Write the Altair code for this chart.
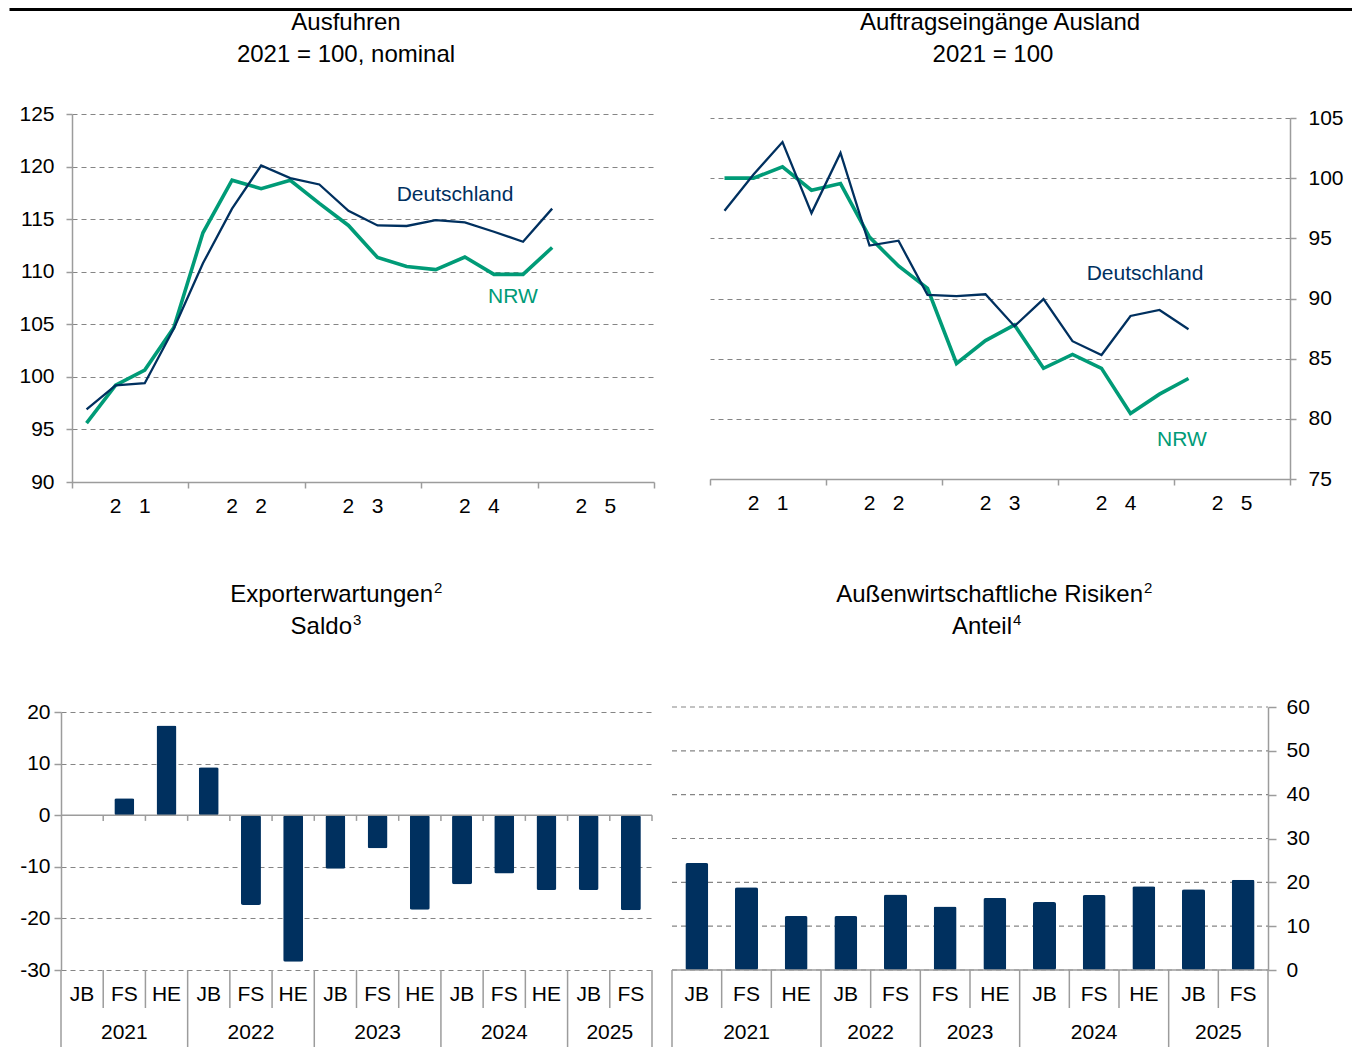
import altair as alt
import pandas as pd

FONT = "Liberation Sans"
NAVY = "#00305F"
GREEN = "#009B77"
GRID = "#858585"
AXIS = "#9C9C9C"

# ---------------- data ----------------
quarters = ["2021Q1", "2021Q2", "2021Q3", "2021Q4",
            "2022Q1", "2022Q2", "2022Q3", "2022Q4",
            "2023Q1", "2023Q2", "2023Q3", "2023Q4",
            "2024Q1", "2024Q2", "2024Q3", "2024Q4",
            "2025Q1"]
axis_years = ["2021", "2022", "2023", "2024", "2025"]

ausfuhren_de = [96.9, 99.2, 99.4, 104.6, 110.8, 116.0, 120.1, 118.9, 118.3,
                115.8, 114.4, 114.35, 114.9, 114.7, 113.8, 112.85, 116.0]
ausfuhren_nrw = [95.6, 99.2, 100.65, 104.7, 113.7, 118.7, 117.9, 118.7, 116.5,
                 114.4, 111.35, 110.5, 110.2, 111.4, 109.75, 109.75, 112.3]

auftrag_de = [97.3, 100.3, 103.0, 97.1, 102.1, 94.4, 94.8, 90.3, 90.2,
              90.35, 87.7, 89.95, 86.45, 85.3, 88.55, 89.05, 87.45]
auftrag_nrw = [100.0, 100.0, 100.95, 99.0, 99.55, 95.1, 92.7, 90.85, 84.6,
               86.5, 87.8, 84.2, 85.35, 84.2, 80.45, 82.05, 83.35]

exp_years = ["2021", "2021", "2021", "2022", "2022", "2022", "2023", "2023",
             "2023", "2024", "2024", "2024", "2025", "2025"]
exp_halves = ["JB", "FS", "HE", "JB", "FS", "HE", "JB", "FS", "HE",
              "JB", "FS", "HE", "JB", "FS"]
exp_values = [None, 3.3, 17.4, 9.3, -17.4, -28.4, -10.4, -6.4, -18.3,
              -13.4, -11.3, -14.5, -14.5, -18.4]

risk_years = ["2021", "2021", "2021", "2022", "2022", "2023", "2023",
              "2024", "2024", "2024", "2025", "2025"]
risk_halves = ["JB", "FS", "HE", "JB", "FS", "FS", "HE", "JB", "FS", "HE",
               "JB", "FS"]
risk_values = [24.4, 18.9, 12.3, 12.3, 17.2, 14.5, 16.4, 15.5, 17.1, 19.1,
               18.4, 20.6]
risk_ticks = [0, 10, 20, 30, 40, 50, 60]


# ---------------- helpers ----------------
def quarter_pos(q):
    return (int(q[:4]) - int(axis_years[0])) * 4 + int(q[-1]) - 0.5


def line_frame(de, nrw):
    return pd.DataFrame({
        "quarter": quarters * 2,
        "pos": [quarter_pos(q) for q in quarters] * 2,
        "series": ["Deutschland"] * len(de) + ["NRW"] * len(nrw),
        "value": de + nrw,
    })


digit_df = pd.DataFrame({
    "pos": [k * 4 + off for k in range(len(axis_years)) for off in (1.5, 2.5)],
    "txt": [ch for y in axis_years for ch in (y[0], y[-1])],
})


def label(text, x, y, color="black", size=21, align="center"):
    return alt.Chart(pd.DataFrame({"t": [text]})).mark_text(
        font=FONT, fontSize=size, color=color, align=align, baseline="middle"
    ).encode(text="t:N", x=alt.value(x), y=alt.value(y))


def title_with_sup(text, sup, right_x, y):
    return [label(text, right_x, y, size=24, align="right"),
            label(sup, right_x + 1, y - 7, size=15, align="left")]


def y_axis(values, orient, tick, pad, offset=0, expr=None, grid=True):
    kw = dict(values=values, orient=orient, title=None, grid=grid,
              domainColor=AXIS, domainWidth=1.5, tickColor=AXIS, tickWidth=1.5,
              tickSize=tick, labelPadding=pad, labelFontSize=21, labelFont=FONT,
              labelColor="black")
    if grid:
        kw.update(gridDash=[5, 4], gridColor=GRID, gridWidth=1.2)
    if offset:
        kw["offset"] = offset
    if expr:
        kw["labelExpr"] = expr
    return alt.Axis(**kw)


def line_panel(df, xs, ys, xaxis, yaxis, width, height, extras):
    base = alt.Chart(df).encode(
        x=alt.X("pos:Q", scale=xs, axis=xaxis),
        y=alt.Y("value:Q", scale=ys, axis=yaxis),
    )
    nrw = base.transform_filter("datum.series == 'NRW'").mark_line(
        color=GREEN, strokeWidth=3.6)
    de = base.transform_filter("datum.series == 'Deutschland'").mark_line(
        color=NAVY, strokeWidth=2.3)
    return alt.layer(nrw, de, *extras).properties(width=width, height=height)


def boundaries(years):
    n = len(years)
    yb = [0] + [i for i in range(1, n) if years[i] != years[i - 1]] + [n]
    cb = [i for i in range(1, n) if i not in yb]
    return yb, cb


def bar_panel(years, halves, values, xs, ys, yaxis, height, bar_size,
              zero_ticks, grid_values=None):
    n = len(values)
    df = pd.DataFrame({"year": years, "half": halves, "value": values,
                       "pos": [i + 0.5 for i in range(n)]})
    yb, cb = boundaries(years)
    layers = []
    if grid_values is not None:
        grid = alt.Chart(pd.DataFrame({"g": grid_values})).mark_rule(
            color=GRID, strokeWidth=1.2, strokeDash=[5, 4]).encode(
            x=alt.X(datum=0, type="quantitative", scale=xs, axis=None),
            x2=alt.datum(n),
            y=alt.Y("g:Q", scale=ys, axis=yaxis),
        )
        layers.append(grid)
    bars = alt.Chart(df).mark_bar(color=NAVY, size=bar_size, cornerRadius=2).encode(
        x=alt.X("pos:Q", scale=xs, axis=None),
        y=alt.Y("value:Q", scale=ys, axis=yaxis),
    )
    zero = alt.Chart(pd.DataFrame({"a": [0]})).mark_rule(
        color=AXIS, strokeWidth=1.5).encode(
        x=alt.X(datum=0, type="quantitative", scale=xs, axis=None),
        x2=alt.datum(n),
        y=alt.Y(datum=0, type="quantitative", scale=ys, axis=yaxis),
    )
    layers += [bars, zero]
    if zero_ticks:
        tk = alt.Chart(pd.DataFrame({"b": list(range(1, n + 1))})).mark_rule(
            color=AXIS, strokeWidth=1.5).encode(
            x=alt.X("b:Q", scale=xs, axis=None),
            y=alt.Y(datum=0, type="quantitative", scale=ys, axis=yaxis),
            y2=alt.datum(-1.1),
        )
        layers.append(tk)
    sep_short = alt.Chart(pd.DataFrame({"b": cb})).mark_rule(
        color=AXIS, strokeWidth=1.5).encode(
        x=alt.X("b:Q", scale=xs, axis=None),
        y=alt.value(height), y2=alt.value(height + 38))
    sep_long = alt.Chart(pd.DataFrame({"b": yb})).mark_rule(
        color=AXIS, strokeWidth=1.5).encode(
        x=alt.X("b:Q", scale=xs, axis=None),
        y=alt.value(height), y2=alt.value(height + 77))
    half_txt = alt.Chart(df).mark_text(
        font=FONT, fontSize=21, color="black", baseline="middle").encode(
        x=alt.X("pos:Q", scale=xs, axis=None), y=alt.value(height + 25),
        text="half:N")
    ydf = pd.DataFrame({
        "year": [years[yb[k]] for k in range(len(yb) - 1)],
        "c": [(yb[k] + yb[k + 1]) / 2 for k in range(len(yb) - 1)],
    })
    year_txt = alt.Chart(ydf).mark_text(
        font=FONT, fontSize=21, color="black", baseline="middle").encode(
        x=alt.X("c:Q", scale=xs, axis=None), y=alt.value(height + 63),
        text="year:N")
    layers += [sep_short, sep_long, half_txt, year_txt]
    return layers


COL1_W = 618

# ---------------- panel 1: Ausfuhren ----------------
xs1 = alt.Scale(domain=[0, 4 * len(axis_years)], range=[0, 582], nice=False, zero=False)
ys1 = alt.Scale(domain=[90, 125], nice=False, zero=False)
xaxis_top = alt.Axis(values=[0, 4, 8, 12, 16, 20], labels=False, title=None,
                     grid=False, tickSize=6, tickColor=AXIS, tickWidth=1.5,
                     domainColor=AXIS, domainWidth=1.5)
xaxis_top2 = alt.Axis(values=[0, 4, 8, 12, 16, 20], labels=False, title=None,
                      grid=False, tickSize=6, tickColor=AXIS, tickWidth=1.5,
                      domainColor=AXIS, domainWidth=1.5, offset=-3)
yaxis1 = y_axis(list(range(90, 126, 5)), "left", 6, 12)

digits1 = alt.Chart(digit_df).mark_text(
    font=FONT, fontSize=21, color="black", baseline="middle").encode(
    x=alt.X("pos:Q", scale=xs1, axis=xaxis_top), y=alt.value(393), text="txt:N")
top_rule = alt.Chart(pd.DataFrame({"a": [0]})).mark_rule(
    color="black", strokeWidth=3).encode(
    x=alt.value(-62.5), x2=alt.value(1280), y=alt.value(-104.5))

p1 = line_panel(
    line_frame(ausfuhren_de, ausfuhren_nrw), xs1, ys1, xaxis_top, yaxis1, COL1_W, 368,
    [digits1,
     label("Deutschland", 383, 81, NAVY),
     label("NRW", 441, 183, GREEN),
     label("Ausfuhren", 274, -91, size=24),
     label("2021 = 100, nominal", 274, -59, size=24),
     top_rule])

# ---------------- panel 2: Auftragseingänge ----------------
xs2 = alt.Scale(domain=[0, 4 * len(axis_years)], nice=False, zero=False)
ys2 = alt.Scale(domain=[75, 105], range=[365, 4], nice=False, zero=False)
yaxis2 = y_axis(list(range(75, 106, 5)), "right", 6, 12)
digits2 = alt.Chart(digit_df).mark_text(
    font=FONT, fontSize=21, color="black", baseline="middle").encode(
    x=alt.X("pos:Q", scale=xs2, axis=xaxis_top2), y=alt.value(390), text="txt:N")

p2 = line_panel(
    line_frame(auftrag_de, auftrag_nrw), xs2, ys2, xaxis_top2, yaxis2, 580, 368,
    [digits2,
     label("Deutschland", 435, 160, NAVY),
     label("NRW", 472, 326, GREEN),
     label("Auftragseingänge Ausland", 290, -91, size=24),
     label("2021 = 100", 283, -59, size=24)])

# ---------------- panel 3: Exporterwartungen ----------------
xs3 = alt.Scale(domain=[0, len(exp_values)], range=[-11, 580], nice=False,
                zero=False, padding=0)
ys3 = alt.Scale(domain=[-30, 20], range=[263, 5], nice=False, zero=False)
yaxis3 = y_axis(list(range(-30, 21, 10)), "left", 7, 4, offset=11,
                expr="'' + datum.value")
p3 = alt.layer(
    *bar_panel(exp_years, exp_halves, exp_values, xs3, ys3, yaxis3, 263, 20, True),
    *title_with_sup("Exporterwartungen", "2", 361, -112),
    *title_with_sup("Saldo", "3", 280, -80),
).properties(width=COL1_W, height=263)

# ---------------- panel 4: Risiken ----------------
xs4 = alt.Scale(domain=[0, len(risk_values)], range=[-38, 558], nice=False,
                zero=False, padding=0)
ys4 = alt.Scale(domain=[0, 60], nice=False, zero=False)
yaxis4 = y_axis(risk_ticks, "right", 8, 10, grid=False)
p4 = alt.layer(
    *bar_panel(risk_years, risk_halves, risk_values, xs4, ys4, yaxis4, 263, 23,
               False, grid_values=risk_ticks),
    *title_with_sup("Außenwirtschaftliche Risiken", "2", 433, -112),
    *title_with_sup("Anteil", "4", 302, -80),
).properties(width=558, height=263)

chart = alt.concat(
    p1, p2, p3, p4, columns=2, bounds="flush",
    spacing={"row": 225, "column": 20}, padding=0,
).configure_view(stroke=None).configure_axis(
    labelFont=FONT, labelFontSize=21, labelColor="black"
).configure_text(font=FONT)

chart.save("out.html", embed_options={"renderer": "svg", "actions": False})
